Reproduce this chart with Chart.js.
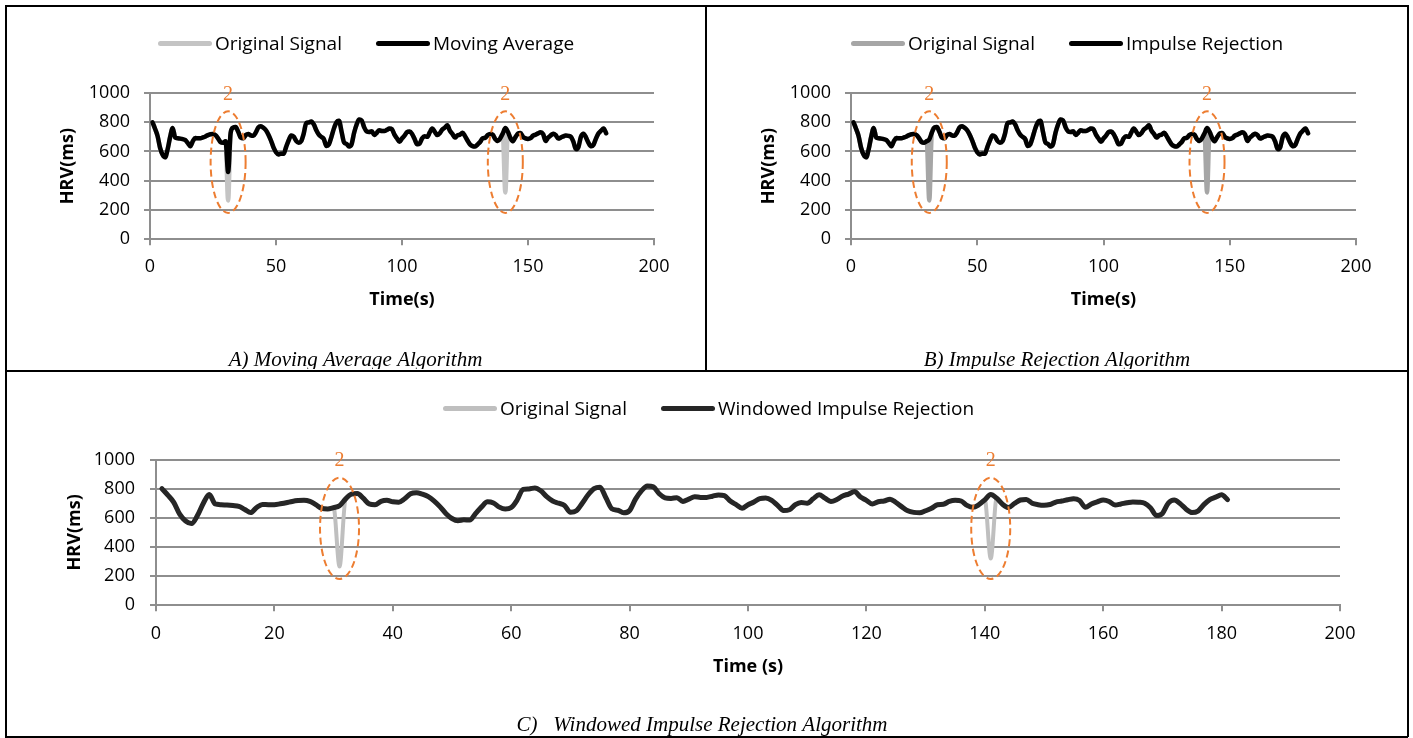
<!DOCTYPE html>
<html lang="en">
<head>
  <meta charset="UTF-8">
  <title>HRV Impulse Rejection</title>
  <script src="https://cdn.jsdelivr.net/npm/chart.js"></script>
  <style>
    body { margin: 0; background: #fff; }
    #page { position: relative; width: 1413px; height: 738px; overflow: hidden; background: #fff; }
    .rule { position: absolute; background: #000; }
    canvas { position: absolute; }
    .legend { position: absolute; display: flex; align-items: center; font-family: 'Open Sans', sans-serif; font-size: 19px; line-height: 22px; color: #000; white-space: nowrap; }
    .legend .item { display: flex; align-items: center; margin-right: 34px; }
    .legend .swatch { display: inline-block; width: 54px; height: 5px; border-radius: 3px; margin-right: 3px; }
  </style>
</head>
<body>
<div id="page">
  <div class="rule" style="left:5px;top:5px;width:1403px;height:1.5px"></div>
  <div class="rule" style="left:5px;top:736px;width:1403px;height:1.5px"></div>
  <div class="rule" style="left:5px;top:5px;width:1.5px;height:732px"></div>
  <div class="rule" style="left:1407px;top:5px;width:1.5px;height:732px"></div>
  <div class="rule" style="left:705px;top:5px;width:1.5px;height:366px"></div>
  <div class="rule" style="left:5px;top:370px;width:1403px;height:1.5px"></div>

  <canvas id="chartA" width="699" height="362" style="left:6px;top:7px"></canvas>
  <canvas id="chartB" width="700" height="362" style="left:707px;top:7px"></canvas>
  <canvas id="chartC" width="1401" height="364" style="left:6px;top:372px"></canvas>

  <div id="legendA" class="legend" style="left:158px;top:32px"></div>
  <div id="legendB" class="legend" style="left:851px;top:32px"></div>
  <div id="legendC" class="legend" style="left:443px;top:397px"></div>
</div>

<script>
  // sample times (s)
  const timeSec = [
    1, 2, 3, 4, 5, 6, 7, 8, 9, 10, 11, 12, 13, 14, 15, 16, 17, 18, 19, 20,
    21, 22, 23, 24, 25, 26, 27, 28, 29, 30, 31, 32, 33, 34, 35, 36, 37, 38, 39, 40,
    41, 42, 43, 44, 45, 46, 47, 48, 49, 50, 51, 52, 53, 54, 55, 56, 57, 58, 59, 60,
    61, 62, 63, 64, 65, 66, 67, 68, 69, 70, 71, 72, 73, 74, 75, 76, 77, 78, 79, 80,
    81, 82, 83, 84, 85, 86, 87, 88, 89, 90, 91, 92, 93, 94, 95, 96, 97, 98, 99, 100,
    101, 102, 103, 104, 105, 106, 107, 108, 109, 110, 111, 112, 113, 114, 115, 116, 117, 118, 119, 120,
    121, 122, 123, 124, 125, 126, 127, 128, 129, 130, 131, 132, 133, 134, 135, 136, 137, 138, 139, 140,
    141, 142, 143, 144, 145, 146, 147, 148, 149, 150, 151, 152, 153, 154, 155, 156, 157, 158, 159, 160,
    161, 162, 163, 164, 165, 166, 167, 168, 169, 170, 171, 172, 173, 174, 175, 176, 177, 178, 179, 180,
    181
  ];

  // HRV (ms) with the two impulses at 31 s and 141 s
  const originalSignal = [
    800, 755, 706, 625, 578, 560, 615, 700, 760, 695, 690, 688, 684, 678, 657, 636, 671, 692, 690, 690,
    696, 703, 712, 718, 720, 712, 690, 664, 660, 670, 265, 728, 763, 767, 735, 695, 690, 713, 720, 710,
    707, 730, 765, 772, 762, 745, 715, 675, 628, 595, 580, 586, 584, 630, 675, 710, 702, 673, 660, 670,
    722, 795, 798, 805, 785, 745, 715, 700, 685, 638, 648, 700, 758, 800, 810, 737, 662, 652, 634, 650,
    728, 785, 818, 812, 765, 737, 733, 738, 712, 728, 745, 740, 740, 748, 757, 752, 715, 690, 666, 690,
    708, 732, 736, 720, 685, 650, 655, 690, 705, 700, 730, 758, 735, 712, 725, 750, 763, 780, 742, 720,
    695, 710, 715, 728, 705, 675, 648, 637, 634, 648, 665, 690, 693, 712, 720, 715, 685, 672, 690, 723,
    320, 735, 693, 670, 698, 722, 726, 700, 690, 686, 691, 708, 715, 724, 731, 718, 672, 695, 710, 722,
    712, 688, 695, 703, 709, 707, 700, 668, 615, 630, 701, 722, 697, 659, 636, 646, 690, 725, 742, 758,
    725
  ];

  const movingAverage = [
    800, 755, 706, 625, 578, 560, 615, 700, 760, 695, 690, 688, 684, 678, 657, 636, 671, 692, 690, 690,
    696, 703, 712, 718, 720, 712, 690, 664, 660, 670, 460, 728, 763, 767, 735, 695, 690, 713, 720, 710,
    707, 730, 765, 772, 762, 745, 715, 675, 628, 595, 580, 586, 584, 630, 675, 710, 702, 673, 660, 670,
    722, 795, 798, 805, 785, 745, 715, 700, 685, 638, 648, 700, 758, 800, 810, 737, 662, 652, 634, 650,
    728, 785, 818, 812, 765, 737, 733, 738, 712, 728, 745, 740, 740, 748, 757, 752, 715, 690, 666, 690,
    708, 732, 736, 720, 685, 650, 655, 690, 705, 700, 730, 758, 735, 712, 725, 750, 763, 780, 742, 720,
    695, 710, 715, 728, 705, 675, 648, 637, 634, 648, 665, 690, 693, 712, 720, 715, 685, 672, 690, 723,
    760, 735, 693, 670, 698, 722, 726, 700, 690, 686, 691, 708, 715, 724, 731, 718, 672, 695, 710, 722,
    712, 688, 695, 703, 709, 707, 700, 668, 615, 630, 701, 722, 697, 659, 636, 646, 690, 725, 742, 758,
    725
  ];

  const impulseRejection = [
    800, 755, 706, 625, 578, 560, 615, 700, 760, 695, 690, 688, 684, 678, 657, 636, 671, 692, 690, 690,
    696, 703, 712, 718, 720, 712, 690, 664, 660, 670, 683, 728, 763, 767, 735, 695, 690, 713, 720, 710,
    707, 730, 765, 772, 762, 745, 715, 675, 628, 595, 580, 586, 584, 630, 675, 710, 702, 673, 660, 670,
    722, 795, 798, 805, 785, 745, 715, 700, 685, 638, 648, 700, 758, 800, 810, 737, 662, 652, 634, 650,
    728, 785, 818, 812, 765, 737, 733, 738, 712, 728, 745, 740, 740, 748, 757, 752, 715, 690, 666, 690,
    708, 732, 736, 720, 685, 650, 655, 690, 705, 700, 730, 758, 735, 712, 725, 750, 763, 780, 742, 720,
    695, 710, 715, 728, 705, 675, 648, 637, 634, 648, 665, 690, 693, 712, 720, 715, 685, 672, 690, 723,
    760, 735, 693, 670, 698, 722, 726, 700, 690, 686, 691, 708, 715, 724, 731, 718, 672, 695, 710, 722,
    712, 688, 695, 703, 709, 707, 700, 668, 615, 630, 701, 722, 697, 659, 636, 646, 690, 725, 742, 758,
    725
  ];

  const windowedRejection = [
    800, 755, 706, 625, 578, 560, 615, 700, 760, 695, 690, 688, 684, 678, 657, 636, 671, 692, 690, 690,
    696, 703, 712, 718, 720, 712, 690, 664, 660, 670, 683, 728, 763, 767, 735, 695, 690, 713, 720, 710,
    707, 730, 765, 772, 762, 745, 715, 675, 628, 595, 580, 586, 584, 630, 675, 710, 702, 673, 660, 670,
    722, 795, 798, 805, 785, 745, 715, 700, 685, 638, 648, 700, 758, 800, 810, 737, 662, 652, 634, 650,
    728, 785, 818, 812, 765, 737, 733, 738, 712, 728, 745, 740, 740, 748, 757, 752, 715, 690, 666, 690,
    708, 732, 736, 720, 685, 650, 655, 690, 705, 700, 730, 758, 735, 712, 725, 750, 763, 780, 742, 720,
    695, 710, 715, 728, 705, 675, 648, 637, 634, 648, 665, 690, 693, 712, 720, 715, 685, 672, 690, 723,
    760, 735, 693, 670, 698, 722, 726, 700, 690, 686, 691, 708, 715, 724, 731, 718, 672, 695, 710, 722,
    712, 688, 695, 703, 709, 707, 700, 668, 615, 630, 701, 722, 697, 659, 636, 646, 690, 725, 742, 758,
    725
  ];

  // circled impulses: times, label, and HRV range of the dashed ellipse
  const spikeTimes = [31, 141];
  const spikeLabel = '2';
  const spikeBand = [180, 875];
  const spikeLabelAt = 990;

  const gridColor = '#8e8e8e';
  const tickFont = { family: "'Open Sans', sans-serif", size: 18 };
  const axisTitleFont = { family: "'Open Sans', sans-serif", size: 18, weight: 'bold' };
  const captionFont = { family: "'Times New Roman', 'Liberation Serif', serif", size: 21, style: 'italic', weight: 'normal', lineHeight: 0.8 };

  const points = values => timeSec.map((t, i) => ({ x: t, y: values[i] }));

  // dashed orange ellipse + "2" over each impulse
  const spikeMarker = {
    id: 'spikeMarker',
    afterDatasetsDraw(chart, args, opts) {
      const { ctx, scales: { x, y } } = chart;
      const top = y.getPixelForValue(spikeBand[1]);
      const bottom = y.getPixelForValue(spikeBand[0]);
      ctx.save();
      ctx.strokeStyle = '#ed7d31';
      ctx.fillStyle = '#ed7d31';
      ctx.lineWidth = 2;
      ctx.setLineDash([7, 4]);
      ctx.font = "20px 'Liberation Serif', serif";
      ctx.textAlign = 'center';
      ctx.textBaseline = 'middle';
      spikeTimes.forEach(t => {
        const cx = x.getPixelForValue(t);
        ctx.beginPath();
        ctx.ellipse(cx, (top + bottom) / 2, opts.rx, (bottom - top) / 2, 0, 0, Math.PI * 2);
        ctx.stroke();
        ctx.fillText(spikeLabel, cx, y.getPixelForValue(spikeLabelAt));
      });
      ctx.restore();
    }
  };

  function buildLegend(id, chart) {
    const box = document.getElementById(id);
    chart.data.datasets.forEach(ds => {
      const item = document.createElement('span');
      item.className = 'item';
      item.innerHTML = '<span class="swatch" style="background:' + ds.borderColor + '"></span>' + ds.label;
      box.appendChild(item);
    });
  }

  function makeChart(id, p) {
    const chart = new Chart(document.getElementById(id), {
      type: 'line',
      data: {
        datasets: [
          { label: 'Original Signal', data: points(originalSignal), borderColor: p.grey, backgroundColor: p.grey, borderWidth: p.greyWidth, order: 2 },
          { label: p.name, data: points(p.values), borderColor: p.dark, backgroundColor: p.dark, borderWidth: p.darkWidth, order: 1 }
        ]
      },
      options: {
        responsive: false,
        animation: false,
        events: [],
        layout: { padding: p.pad },
        elements: {
          point: { radius: 0 },
          line: { cubicInterpolationMode: 'monotone', borderCapStyle: 'round', borderJoinStyle: 'round' }
        },
        scales: {
          x: {
            type: 'linear', min: 0, max: 200,
            ticks: { stepSize: p.xStep, padding: p.xPad, color: '#000', font: tickFont, callback: v => String(v) },
            grid: { drawOnChartArea: false, color: gridColor, lineWidth: 2, tickLength: 6 },
            border: { color: gridColor, width: 2 },
            title: { display: true, text: p.xTitle, color: '#000', font: axisTitleFont, padding: 0 },
            afterFit: s => { s.height = p.xh; }
          },
          y: {
            min: 0, max: 1000,
            ticks: { stepSize: 200, padding: p.yPad, color: '#000', font: tickFont, callback: v => String(v) },
            grid: { color: gridColor, lineWidth: 2, tickLength: 6 },
            border: { color: gridColor, width: 2 },
            title: { display: true, text: 'HRV(ms)', color: '#000', font: axisTitleFont, padding: 0 },
            afterFit: s => { s.width = p.yw; }
          }
        },
        plugins: {
          legend: { display: false },
          tooltip: { enabled: false },
          title: { display: true, position: 'bottom', text: p.caption, color: '#000', font: captionFont, padding: p.capPad },
          spikeMarker: { rx: p.rx }
        }
      },
      plugins: [spikeMarker]
    });
    buildLegend(p.legendId, chart);
    return chart;
  }

  makeChart('chartA', {
    name: 'Moving Average', values: movingAverage, legendId: 'legendA',
    grey: '#c4c4c4', greyWidth: 4.5, dark: '#000000', darkWidth: 4.5,
    pad: { left: 51, right: 51, top: 86, bottom: 0 }, yw: 93, xh: 71.5,
    xStep: 50, xPad: 10.5, yPad: 14, xTitle: 'Time(s)',
    caption: 'A) Moving Average Algorithm', capPad: { top: 41, bottom: 0.5 }, rx: 17.5
  });

  makeChart('chartB', {
    name: 'Impulse Rejection', values: impulseRejection, legendId: 'legendB',
    grey: '#a6a6a6', greyWidth: 4.5, dark: '#000000', darkWidth: 4.5,
    pad: { left: 51, right: 51, top: 86, bottom: 0 }, yw: 93, xh: 71.5,
    xStep: 50, xPad: 10.5, yPad: 14, xTitle: 'Time(s)',
    caption: 'B) Impulse Rejection Algorithm', capPad: { top: 41, bottom: 0.5 }, rx: 17.5
  });

  makeChart('chartC', {
    name: 'Windowed Impulse Rejection', values: windowedRejection, legendId: 'legendC',
    grey: '#bfbfbf', greyWidth: 4, dark: '#262626', darkWidth: 5,
    pad: { left: 58, right: 67, top: 87.5, bottom: 0 }, yw: 92, xh: 72.5,
    xStep: 20, xPad: 11.5, yPad: 15, xTitle: 'Time (s)',
    caption: 'C)   Windowed Impulse Rejection Algorithm', capPad: { top: 39, bottom: 2.5 }, rx: 19.5
  });
</script>
</body>
</html>
